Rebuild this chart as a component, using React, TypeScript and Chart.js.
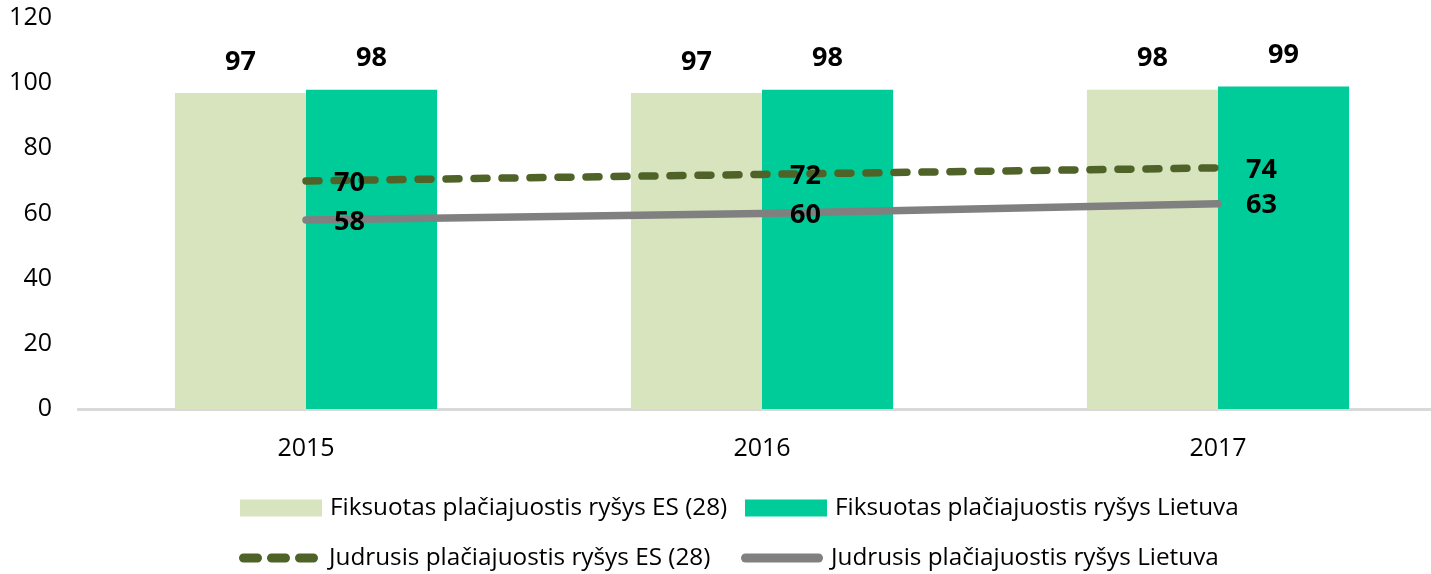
import React, { useEffect, useRef } from "react";
import { Chart, registerables } from "chart.js";

Chart.register(...registerables);

const categories = ["2015", "2016", "2017"];
const fixedEU = [97, 97, 98];
const fixedLT = [98, 98, 99];
const mobileEU = [70, 72, 74];
const mobileLT = [58, 60, 63];
const yTicks = [0, 20, 40, 60, 80, 100, 120];

const seriesNames = [
  "Fiksuotas plačiajuostis ryšys ES (28)",
  "Fiksuotas plačiajuostis ryšys Lietuva",
  "Judrusis plačiajuostis ryšys ES (28)",
  "Judrusis plačiajuostis ryšys Lietuva",
];

const C_LIGHT = "#D7E4BD";
const C_TEAL = "#00CC99";
const C_DASH = "#4F6228";
const C_GREY = "#808080";
const FONT = '"Open Sans", "Noto Sans", sans-serif';

const labelPlugin = {
  id: "valueLabels",
  afterDatasetsDraw(chart: any) {
    const ctx = chart.ctx;
    ctx.save();
    ctx.fillStyle = "#000";
    ctx.font = `700 27px ${FONT}`;
    chart.data.datasets.forEach((ds: any, i: number) => {
      const meta = chart.getDatasetMeta(i);
      meta.data.forEach((el: any, j: number) => {
        const v = ds.data[j];
        if (ds.type === "bar") {
          ctx.textAlign = "center";
          ctx.textBaseline = "middle";
          ctx.fillText(String(v), el.x, el.y - 31);
        } else {
          ctx.textAlign = "left";
          ctx.textBaseline = "middle";
          ctx.fillText(String(v), el.x + 28, el.y + 2);
        }
      });
    });
    ctx.restore();
  },
};

const legendPlugin = {
  id: "customLegend",
  afterDraw(chart: any) {
    const ctx = chart.ctx;
    ctx.save();
    ctx.font = `400 24.3px ${FONT}`;
    ctx.textBaseline = "middle";
    ctx.textAlign = "left";
    const rows = [
      { y: 508, items: [0, 1], cols: [240, 745] },
      { y: 558, items: [2, 3], cols: [239, 741] },
    ];
    const boxW = 82;
    rows.forEach((row) => {
      row.items.forEach((idx, k) => {
        const x = row.cols[k];
        const ds = chart.data.datasets[idx];
        if (ds.type === "bar") {
          ctx.fillStyle = ds.backgroundColor;
          ctx.fillRect(x, row.y - 8.5, boxW, 17);
        } else {
          ctx.strokeStyle = ds.borderColor;
          ctx.lineWidth = 9;
          ctx.lineCap = "round";
          ctx.setLineDash(ds.borderDash && ds.borderDash.length ? [14, 14] : []);
          ctx.beginPath();
          ctx.moveTo(x + 4.5, row.y);
          ctx.lineTo(x + boxW - 4.5, row.y);
          ctx.stroke();
          ctx.setLineDash([]);
        }
        ctx.fillStyle = "#000";
        ctx.fillText(ds.label, x + boxW + 8, row.y);
      });
    });
    ctx.restore();
  },
};

export default function App() {
  const ref = useRef<HTMLCanvasElement | null>(null);

  useEffect(() => {
    if (!ref.current) return;
    const chart = new Chart(ref.current, {
      type: "bar",
      data: {
        labels: categories,
        datasets: [
          {
            type: "bar",
            label: seriesNames[0],
            data: fixedEU,
            backgroundColor: C_LIGHT,
            order: 2,
          },
          {
            type: "bar",
            label: seriesNames[1],
            data: fixedLT,
            backgroundColor: C_TEAL,
            order: 2,
          },
          {
            type: "line",
            label: seriesNames[2],
            data: mobileEU,
            borderColor: C_DASH,
            backgroundColor: C_DASH,
            borderWidth: 7.5,
            borderDash: [13, 15],
            borderCapStyle: "round",
            pointRadius: 0,
            tension: 0,
            order: 1,
          },
          {
            type: "line",
            label: seriesNames[3],
            data: mobileLT,
            borderColor: C_GREY,
            backgroundColor: C_GREY,
            borderWidth: 7.5,
            borderCapStyle: "round",
            pointRadius: 0,
            tension: 0,
            order: 1,
          },
        ] as any,
      },
      options: {
        responsive: false,
        animation: false,
        devicePixelRatio: 1,
        datasets: {
          bar: { categoryPercentage: 0.575, barPercentage: 1 },
        },
        layout: { padding: { top: 18, left: 0, right: 0, bottom: 105 } },
        plugins: {
          legend: { display: false },
          tooltip: { enabled: false },
        },
        scales: {
          x: {
            grid: { display: false, drawTicks: false },
            border: { display: true, color: "#D9D9D9", width: 3 },
            ticks: {
              color: "#000",
              font: { family: FONT, size: 25 },
              padding: 25,
            },
            afterFit: (s: any) => {
              s.height = 60;
              s.paddingLeft = 0;
              s.paddingRight = 0;
            },
          },
          y: {
            min: 0,
            max: 120,
            grid: { display: false, drawTicks: false },
            border: { display: false },
            afterBuildTicks: (s: any) => {
              s.ticks = yTicks.map((v) => ({ value: v }));
            },
            ticks: {
              color: "#000",
              font: { family: FONT, size: 25 },
              padding: 26,
            },
            afterFit: (s: any) => {
              s.width = 78;
              s.paddingTop = 0;
              s.paddingBottom = 0;
            },
          },
        },
      },
      plugins: [labelPlugin, legendPlugin],
    });
    return () => chart.destroy();
  }, []);

  return (
    <div
      style={{
        position: "fixed",
        left: 0,
        top: 0,
        width: 1431,
        height: 574,
        overflow: "hidden",
        background: "#fff",
      }}
    >
      <canvas ref={ref} width={1446} height={574} style={{ width: 1446, height: 574, display: "block" }} />
    </div>
  );
}
